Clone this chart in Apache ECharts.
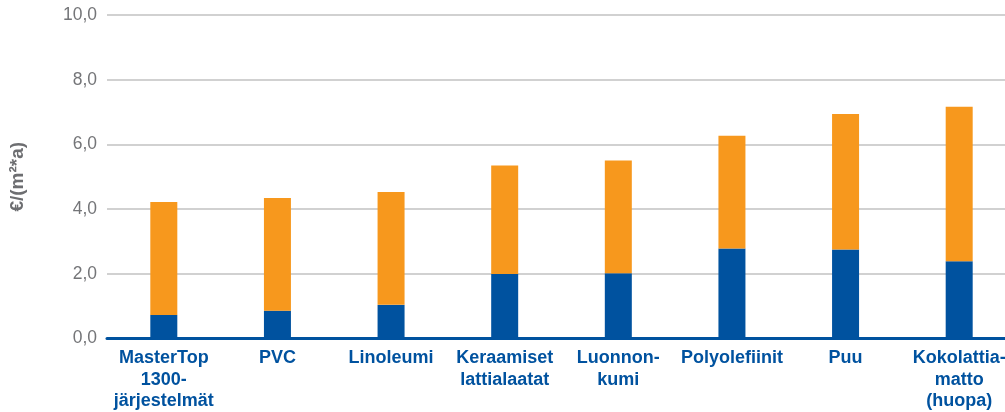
<!DOCTYPE html>
<html>
<head>
<meta charset="utf-8">
<script src="https://cdn.jsdelivr.net/npm/echarts@6/dist/echarts.min.js"></script>
<style>
    html, body {margin: 0; padding: 0; background: #fff; overflow: hidden;}
    /* the plot runs past the right edge of the window, like in the original */
    #chart {width: 1016px; height: 412px;}
</style>
</head>
<body>
<div id="chart"></div>
<script>
    // materiaalit
    let categories = [
        'MasterTop\n1300-\njärjestelmät',
        'PVC',
        'Linoleumi',
        'Keraamiset\nlattialaatat',
        'Luonnon-\nkumi',
        'Polyolefiinit',
        'Puu',
        'Kokolattia-\nmatto\n(huopa)'
    ]
    // alaosa (sininen) ja yläosa (oranssi), €/(m²*a)
    let bottomValues = [0.73, 0.86, 1.04, 1.99, 2.02, 2.78, 2.75, 2.39]
    let topValues = [3.49, 3.48, 3.49, 3.36, 3.48, 3.49, 4.19, 4.77]
    let yTicks = [0, 2, 4, 6, 8, 10]

    let blue = '#00529f'
    let orange = '#f7981d'
    let grey = '#6d6e71'

    let myChart = echarts.init(document.getElementById('chart'));
    myChart.setOption({
        animation: false,
        grid: {
            left: 106,
            right: 0,
            top: 15,
            bottom: 73,
            containLabel: false
        },
        xAxis: {
            type: 'category',
            data: categories,
            axisLine: {lineStyle: {color: blue, width: 3}},
            axisTick: {show: false},
            axisLabel: {
                interval: 0,
                margin: 9,
                color: blue,
                fontFamily: 'Liberation Sans, Arial, sans-serif',
                fontWeight: 'bold',
                fontSize: 18,
                lineHeight: 21.5
            }
        },
        yAxis: {
            type: 'value',
            min: yTicks[0],
            max: yTicks[yTicks.length - 1],
            interval: 2,
            name: '€/(m²*a)',
            nameLocation: 'middle',
            nameGap: 80,
            nameTextStyle: {
                color: grey,
                fontFamily: 'Liberation Sans, Arial, sans-serif',
                fontWeight: 'bold',
                fontSize: 19
            },
            axisLine: {show: false},
            axisTick: {show: false},
            splitLine: {lineStyle: {color: '#c2c2c2', width: 1.5}},
            axisLabel: {
                margin: 10,
                color: '#747578',
                fontFamily: 'Liberation Sans, Arial, sans-serif',
                fontSize: 17.5,
                formatter: v => v.toFixed(1).replace('.', ',')
            }
        },
        series: [
            {
                name: 'ala',
                type: 'bar',
                stack: 'kaikki',
                barWidth: 27,
                itemStyle: {color: blue},
                data: bottomValues
            },
            {
                name: 'ylä',
                type: 'bar',
                stack: 'kaikki',
                barWidth: 27,
                itemStyle: {color: orange},
                data: topValues
            }
        ]
    });
</script>
</body>
</html>
